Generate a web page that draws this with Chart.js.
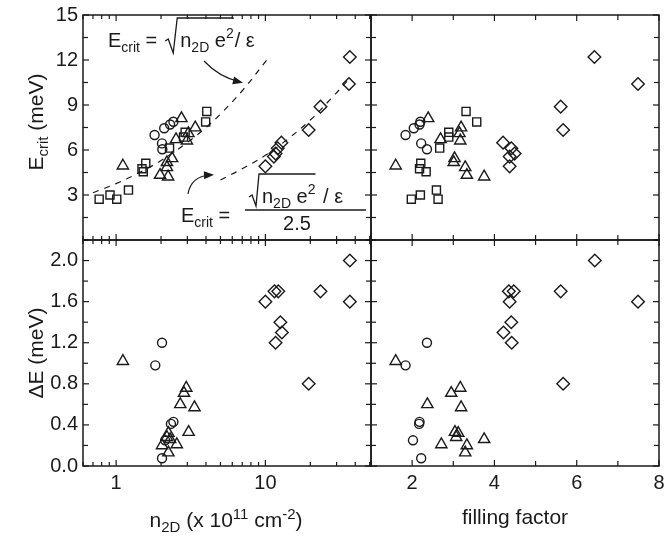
<!DOCTYPE html>
<html><head><meta charset="utf-8">
<script src="https://cdn.jsdelivr.net/npm/chart.js@4.4.1/dist/chart.umd.min.js"></script>
<style>
html,body{margin:0;padding:0;background:#fff;}
#wrap{position:relative;width:665px;height:538px;overflow:hidden;background:#fff;}
#wrap canvas{position:absolute;left:0;top:0;}
</style></head><body>
<div id="wrap">
<canvas id="cTL" width="665" height="538"></canvas>
<canvas id="cTR" width="665" height="538"></canvas>
<canvas id="cBL" width="665" height="538"></canvas>
<canvas id="cBR" width="665" height="538"></canvas>
</div>
<script>
// ---------- DATA ----------
// Top panels: critical energy E_crit (meV)
const ecritCircles   = [7.0, 7.45, 7.7, 7.88, 6.44, 6.05];
const nCirclesTop    = [1.81, 2.10, 2.30, 2.42, 2.03, 2.04];
const fillCirclesTop = [1.84, 2.04, 2.18, 2.20, 2.22, 2.36];

const ecritSquares   = [2.72, 3.0, 2.72, 3.33, 4.75, 4.55, 5.11, 6.13, 6.86, 7.18, 8.57, 7.87];
const nSquaresTop    = [0.77, 0.91, 1.01, 1.21, 1.49, 1.52, 1.58, 2.28, 2.83, 2.90, 4.05, 3.98];
const fillSquaresTop = [1.98, 2.20, 2.63, 2.59, 2.18, 2.34, 2.21, 2.67, 2.89, 2.89, 3.31, 3.57];

const ecritTriangles   = [4.95, 8.11, 7.49, 7.11, 6.71, 6.62, 5.44, 5.18, 4.84, 4.33, 4.22];
const nTrianglesTop    = [1.11, 2.74, 3.39, 3.05, 2.52, 2.98, 2.37, 2.19, 2.19, 1.97, 2.23];
const fillTrianglesTop = [1.60, 2.39, 3.19, 3.15, 2.69, 3.17, 3.03, 3.01, 3.29, 3.33, 3.75];

const ecritDiamonds   = [12.2, 10.4, 8.89, 7.33, 6.49, 6.11, 5.76, 5.56, 4.91];
const nDiamondsTop    = [36.8, 36.3, 23.4, 19.5, 12.8, 12.1, 11.7, 11.4, 10.0];
const fillDiamondsTop = [6.43, 7.49, 5.61, 5.67, 4.21, 4.41, 4.49, 4.37, 4.37];

// dashed guide curves
const curveUpperN = [0.70, 1.0, 1.5, 2.0, 3.0, 4.0, 5.0, 7.0, 10.3];
const curveUpperE = [3.15, 3.76, 4.6, 5.3, 6.5, 7.5, 8.4, 9.95, 12.05];
const curveLowerN = [5.0, 7.0, 10.0, 14.0, 20.0, 28.0, 36.5];
const curveLowerE = [4.0, 4.75, 5.65, 6.7, 8.0, 9.5, 10.75];

// Bottom panels: Delta E (meV)
const dECircles      = [1.2, 0.98, 0.43, 0.41, 0.25, 0.075];
const nCirclesBot    = [2.03, 1.83, 2.42, 2.33, 2.13, 2.03];
const fillCirclesBot = [2.36, 1.84, 2.18, 2.17, 2.02, 2.22];

const dETriangles      = [1.02, 0.76, 0.71, 0.60, 0.57, 0.33, 0.32, 0.28, 0.26, 0.21, 0.20, 0.13];
const nTrianglesBot    = [1.11, 2.95, 2.85, 2.69, 3.35, 3.06, 2.24, 2.19, 2.30, 2.55, 2.03, 2.24];
const fillTrianglesBot = [1.60, 3.17, 2.95, 2.37, 3.19, 3.04, 3.12, 3.07, 3.75, 2.71, 3.33, 3.29];

const dEDiamonds      = [2.0, 1.6, 1.7, 0.8, 1.6, 1.7, 1.7, 1.4, 1.3, 1.2];
const nDiamondsBot    = [36.8, 36.8, 23.4, 19.5, 10.0, 11.5, 12.2, 12.6, 12.9, 11.7];
const fillDiamondsBot = [6.44, 7.49, 5.61, 5.67, 4.37, 4.35, 4.47, 4.41, 4.22, 4.42];

// ticks
const xLogLabels  = [1, 10];
const xLogMinor   = [0.6, 0.7, 0.8, 0.9, 2, 3, 4, 5, 6, 7, 8, 9, 20, 30, 40, 50];
const xFillLabels = [2, 4, 6, 8];
const xFillMinor  = [1, 3, 5, 7];
const yELabels    = [3, 6, 9, 12, 15];
const yEMinor     = [0, 1.5, 4.5, 7.5, 10.5, 13.5];
const yDLabels    = [0, 0.4, 0.8, 1.2, 1.6, 2.0];
const yDMinor     = [0.2, 0.6, 1.0, 1.4, 1.8, 2.2];

// ---------- STYLE / HELPERS ----------
const FONT = '"Liberation Sans", Arial, Helvetica, sans-serif';
const INK = '#1a1a1a';
const FS = 20;
const TS = 21;

function pts(xs, ys) { return xs.map((v, i) => ({ x: v, y: ys[i] })); }
function markers(xs, ys, style, r) {
  return { data: pts(xs, ys), pointStyle: style, pointRadius: r, pointHoverRadius: r,
    pointBorderColor: INK, pointBackgroundColor: 'rgba(0,0,0,0)', pointBorderWidth: 1.4,
    borderColor: INK, backgroundColor: 'rgba(0,0,0,0)', showLine: false };
}
function dashed(xs, ys) {
  return { type: 'line', data: pts(xs, ys), showLine: true, pointRadius: 0, borderColor: INK,
    borderWidth: 1.2, borderDash: [6, 6], fill: false, tension: 0.4 };
}

function drawRich(ctx, x, y, segs) {
  segs.forEach(s => {
    ctx.font = (s.size || FS) + 'px ' + FONT;
    ctx.fillText(s.t, x, y + (s.dy || 0));
    x += ctx.measureText(s.t).width;
  });
  return x;
}
function richWidth(ctx, segs) {
  let w = 0;
  segs.forEach(s => { ctx.font = (s.size || FS) + 'px ' + FONT; w += ctx.measureText(s.t).width; });
  return w;
}

const frameTicks = {
  id: 'frameTicks',
  afterDatasetsDraw(chart, args, o) {
    const { ctx, chartArea: a } = chart;
    const xs = chart.scales.x, ys = chart.scales.y;
    ctx.save();
    ctx.strokeStyle = INK;
    const seg = (x1, y1, x2, y2) => { ctx.beginPath(); ctx.moveTo(x1, y1); ctx.lineTo(x2, y2); ctx.stroke(); };
    ctx.lineWidth = 1.2;
    const xt = (vals, len) => vals.forEach(v => {
      const p = xs.getPixelForValue(v);
      seg(p, a.bottom, p, a.bottom - len); seg(p, a.top, p, a.top + len);
    });
    const yt = (vals, len) => vals.forEach(v => {
      const p = ys.getPixelForValue(v);
      seg(a.left, p, a.left + len, p); seg(a.right, p, a.right - len, p);
    });
    xt(o.xMajor, 6); xt(o.xMinor, o.xMinorLen || 5);
    yt(o.yMajor, 6); yt(o.yMinor, 5);
    ctx.lineWidth = 1.5;
    ctx.strokeRect(a.left, a.top, a.right - a.left, a.bottom - a.top);
    ctx.restore();
  }
};

const richText = {
  id: 'richText',
  afterDraw(chart, args, o) {
    const ctx = chart.ctx;
    ctx.save();
    ctx.fillStyle = INK; ctx.strokeStyle = INK; ctx.textBaseline = 'alphabetic'; ctx.textAlign = 'left';
    (o.items || []).forEach(it => {
      const w = richWidth(ctx, it.segs);
      ctx.save();
      ctx.translate(it.x, it.y);
      if (it.rotate) ctx.rotate(-Math.PI / 2);
      drawRich(ctx, it.align === 'left' ? 0 : -w / 2, 0, it.segs);
      ctx.restore();
    });
    if (o.formulas) o.formulas(ctx, chart);
    ctx.restore();
  }
};

function arrow(ctx, p0, c, p1) {
  ctx.lineWidth = 1.2;
  ctx.beginPath(); ctx.moveTo(p0[0], p0[1]); ctx.quadraticCurveTo(c[0], c[1], p1[0], p1[1]); ctx.stroke();
  const ang = Math.atan2(p1[1] - c[1], p1[0] - c[0]);
  const L = 10, W = 4;
  const tx = p1[0] + Math.cos(ang) * 3, ty = p1[1] + Math.sin(ang) * 3;
  ctx.beginPath();
  ctx.moveTo(tx, ty);
  ctx.lineTo(tx - L * Math.cos(ang) + W * Math.sin(ang), ty - L * Math.sin(ang) - W * Math.cos(ang));
  ctx.lineTo(tx - L * Math.cos(ang) - W * Math.sin(ang), ty - L * Math.sin(ang) + W * Math.cos(ang));
  ctx.closePath(); ctx.fill();
}

function formulas(ctx) {
  const sub = { size: 14, dy: 5 };
  const sup = { size: 14, dy: -9 };
  // upper formula
  let x = drawRich(ctx, 108, 47, [{ t: 'E' }, { t: 'crit', ...sub }, { t: ' =' }]);
  let r0 = x + 8;
  let xe = drawRich(ctx, r0 + 15, 47, [{ t: 'n' }, { t: '2D', ...sub }, { t: ' e' }, { t: '2', ...sup }]);
  drawRich(ctx, xe + 1, 47, [{ t: '/ ε' }]);
  ctx.lineWidth = 1.3;
  ctx.beginPath();
  ctx.moveTo(r0, 41); ctx.lineTo(r0 + 3, 39); ctx.lineTo(r0 + 8, 53); ctx.lineTo(r0 + 12, 18); ctx.lineTo(xe, 18);
  ctx.stroke();
  // lower formula
  drawRich(ctx, 181, 222, [{ t: 'E' }, { t: 'crit', ...sub }, { t: ' =' }]);
  ctx.lineWidth = 1.3;
  ctx.beginPath(); ctx.moveTo(245, 210); ctx.lineTo(366, 210); ctx.stroke();
  const q0 = 249;
  xe = drawRich(ctx, q0 + 13, 203, [{ t: 'n' }, { t: '2D', ...sub }, { t: ' e' }, { t: '2', ...sup }]);
  drawRich(ctx, xe + 2, 203, [{ t: ' / ε' }]);
  ctx.beginPath();
  ctx.moveTo(q0, 197); ctx.lineTo(q0 + 3, 195); ctx.lineTo(q0 + 7, 206); ctx.lineTo(q0 + 10, 174); ctx.lineTo(xe, 174);
  ctx.stroke();
  ctx.font = FS + 'px ' + FONT; ctx.textAlign = 'center';
  ctx.fillText('2.5', 297, 230);
  ctx.textAlign = 'left';
  // arrows
  arrow(ctx, [204, 61], [219, 77], [240, 82]);
  arrow(ctx, [188, 194], [191, 176], [211, 175]);
}

function fixedTicks(list) { return s => { s.ticks = list.map(v => ({ value: v })); }; }
function zeroPad(s) { s.paddingLeft = 0; s.paddingRight = 0; s.paddingTop = 0; s.paddingBottom = 0; }

function xScale(kind, showLabels) {
  const log = kind === 'log';
  return {
    type: log ? 'logarithmic' : 'linear',
    min: log ? 0.6 : 1, max: log ? 51 : 8,
    display: showLabels,
    afterBuildTicks: fixedTicks(log ? xLogLabels : xFillLabels),
    afterFit: s => { s.height = showLabels ? 40 : 0; zeroPad(s); },
    grid: { display: false, drawTicks: false, tickLength: 0 },
    border: { display: false },
    ticks: { display: true, autoSkip: false, maxRotation: 0, padding: 5, color: INK,
      font: { family: FONT, size: FS }, callback: v => String(v) }
  };
}
function yScale(kind, showLabels) {
  const top = kind === 'E';
  return {
    type: 'linear', min: 0, max: top ? 15 : 2.2,
    display: showLabels,
    afterBuildTicks: fixedTicks(top ? yELabels : yDLabels),
    afterFit: s => { s.width = showLabels ? 50 : 0; zeroPad(s); },
    grid: { display: false, drawTicks: false, tickLength: 0 },
    border: { display: false },
    ticks: { display: true, autoSkip: false, padding: 5, color: INK,
      font: { family: FONT, size: FS }, callback: v => top ? String(v) : Number(v).toFixed(1) }
  };
}

function make(id, datasets, xs, ys, padding, ticksOpt, items, withFormulas) {
  return new Chart(document.getElementById(id), {
    type: 'scatter',
    data: { datasets },
    options: {
      responsive: false, animation: false, events: [],
      layout: { autoPadding: false, padding },
      plugins: {
        legend: { display: false }, tooltip: { enabled: false },
        frameTicks: ticksOpt,
        richText: { items, formulas: withFormulas ? formulas : null }
      },
      scales: { x: xs, y: ys }
    },
    plugins: [frameTicks, richText]
  });
}

const logTicks  = { xMajor: xLogLabels, xMinor: xLogMinor, xMinorLen: 4 };
const fillTicks = { xMajor: xFillLabels, xMinor: xFillMinor, xMinorLen: 5 };
const eTicks = { yMajor: yELabels, yMinor: yEMinor };
const dTicks = { yMajor: yDLabels, yMinor: yDMinor };

const R = { circle: 4.5, rect: 5.7, triangle: 6.5, rectRot: 6.3 };

// Top-left
make('cTL', [
  dashed(curveUpperN, curveUpperE),
  dashed(curveLowerN, curveLowerE),
  markers(nCirclesTop, ecritCircles, 'circle', R.circle),
  markers(nSquaresTop, ecritSquares, 'rect', R.rect),
  markers(nTrianglesTop, ecritTriangles, 'triangle', R.triangle),
  markers(nDiamondsTop, ecritDiamonds, 'rectRot', R.rectRot)
], xScale('log', false), yScale('E', true), { left: 33, right: 294, top: 15, bottom: 298 },
  { ...logTicks, ...eTicks },
  [{ x: 43, y: 122, rotate: true, segs: [{ t: 'E', size: TS }, { t: 'crit', size: 15, dy: 5 }, { t: ' (meV)', size: TS }] }], true);

// Top-right
make('cTR', [
  markers(fillCirclesTop, ecritCircles, 'circle', R.circle),
  markers(fillSquaresTop, ecritSquares, 'rect', R.rect),
  markers(fillTrianglesTop, ecritTriangles, 'triangle', R.triangle),
  markers(fillDiamondsTop, ecritDiamonds, 'rectRot', R.rectRot)
], xScale('fill', false), yScale('E', false), { left: 371, right: 6, top: 15, bottom: 298 },
  { ...fillTicks, ...eTicks }, [], false);

// Bottom-left
make('cBL', [
  markers(nCirclesBot, dECircles, 'circle', R.circle),
  markers(nTrianglesBot, dETriangles, 'triangle', R.triangle),
  markers(nDiamondsBot, dEDiamonds, 'rectRot', R.rectRot)
], xScale('log', true), yScale('D', true), { left: 33, right: 294, top: 240, bottom: 32 },
  { ...logTicks, ...dTicks },
  [{ x: 43, y: 353, rotate: true, segs: [{ t: 'ΔE (meV)', size: TS }] },
   { x: 226, y: 527, segs: [{ t: 'n', size: TS }, { t: '2D', size: 15, dy: 5 }, { t: ' (x 10', size: TS }, { t: '11', size: 15, dy: -8 },
     { t: ' cm', size: TS }, { t: '-2', size: 15, dy: -8 }, { t: ')', size: TS }] }], false);

// Bottom-right
make('cBR', [
  markers(fillCirclesBot, dECircles, 'circle', R.circle),
  markers(fillTrianglesBot, dETriangles, 'triangle', R.triangle),
  markers(fillDiamondsBot, dEDiamonds, 'rectRot', R.rectRot)
], xScale('fill', true), yScale('D', false), { left: 371, right: 6, top: 240, bottom: 32 },
  { ...fillTicks, ...dTicks },
  [{ x: 515, y: 524, segs: [{ t: 'filling factor', size: TS }] }], false);
</script>
</body></html>
